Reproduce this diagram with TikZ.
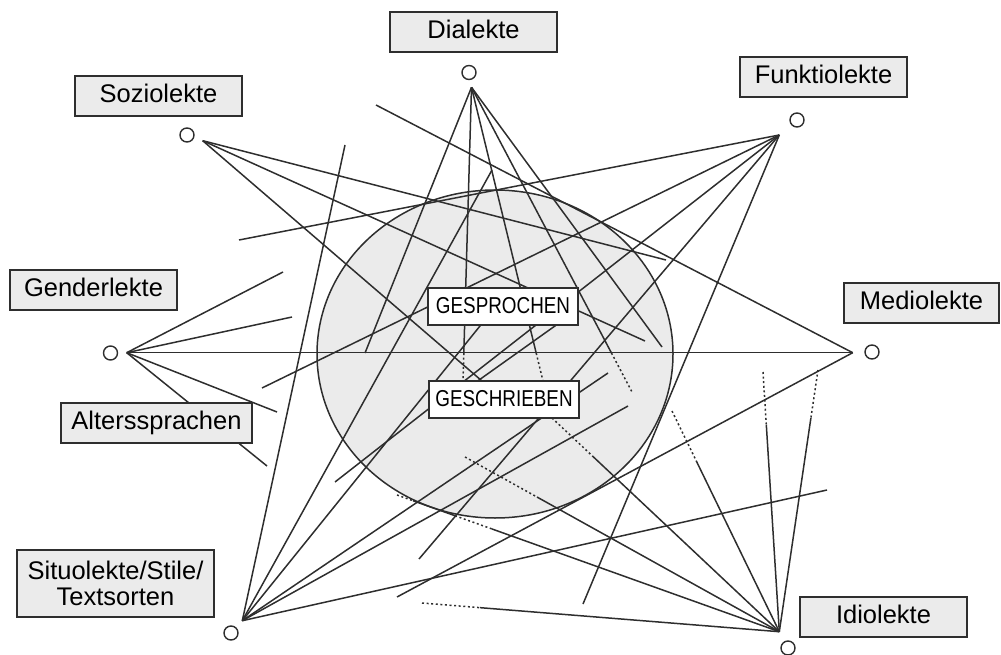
\documentclass[tikz,border=0pt]{standalone}
\usepackage{fontspec}
\setmainfont{Liberation Sans}
\newfontfamily\condfont[FakeStretch=0.82]{Liberation Sans}
\usetikzlibrary{calc,shapes.geometric}
\definecolor{ln}{HTML}{2E2E2E}
\definecolor{fl}{HTML}{EBEBEB}
\begin{document}
\begin{tikzpicture}[x=1pt,y=-1pt,
  lnk/.style={draw=ln, line width=1.5pt},
  dotl/.style={draw=ln, line width=1.5pt, dash pattern=on 2pt off 2.6pt},
  lblbase/.style={draw=ln, fill=fl, line width=1.5pt, minimum width=167pt, minimum height=40pt, inner sep=0pt,
    font=\fontsize{25.5}{26}\selectfont},
  lbl/.style={lblbase, text height=19pt, text depth=6pt},
  inbox/.style={draw=ln, fill=white, line width=1.5pt, minimum width=150pt, minimum height=37pt, inner sep=0pt,
    font=\condfont\fontsize{23}{24}\selectfont, text height=17pt, text depth=4pt},
  hubc/.style={circle, draw=ln, fill=white, line width=1.4pt, minimum size=14pt, inner sep=0pt}]
\useasboundingbox (0,0) rectangle (1001,655);
% ellipse
\node[ellipse, draw=ln, fill=fl, line width=1.5pt, minimum width=356pt, minimum height=328pt, inner sep=0pt] (ell) at (495,354) {};
% hubs
\coordinate (D) at (471.5,87.3);
\coordinate (Z) at (202.7,140.7);
\coordinate (F) at (779.3,135);
\coordinate (G) at (126.7,352.7);
\coordinate (M) at (852.7,352.7);
\coordinate (S) at (242.3,620.7);
\coordinate (I) at (779.3,631.7);
% free ends
\coordinate (zf) at (666,260);
\coordinate (zg) at (645,341);
\coordinate (zh) at (482,381);
\coordinate (f1) at (239,240);
\coordinate (f2) at (262,388);
\coordinate (f3) at (335,482);
\coordinate (f4) at (419,559);
\coordinate (f5) at (583,604);
\coordinate (m1) at (376,105);
\coordinate (m2) at (397,597);
\coordinate (g1) at (283,272);
\coordinate (g2) at (292,317);
\coordinate (g3) at (277,412);
\coordinate (g4) at (267,466);
\coordinate (s1) at (345,145);
\coordinate (s2) at (484,321);
\coordinate (s3) at (608,373);
\coordinate (s4) at (628,406);
\coordinate (s5) at (827,490);
\coordinate (s6) at (492,170);
\coordinate (d1) at (463,381);
\coordinate (d2) at (543,381);
\coordinate (d3) at (632,392);
\coordinate (d4) at (662,347);
\coordinate (d5) at (365,353);
\coordinate (y1) at (472,385);
\coordinate (y2) at (576,311);
\coordinate (i1) at (763,372);
\coordinate (i2) at (818,370);
\coordinate (i3) at (672,411);
\coordinate (i4) at (552,418);
\coordinate (i5) at (465,457);
\coordinate (i6) at (397,495);
\coordinate (i7) at (422,603);
% Soziolekte
\draw[lnk] (Z) -- (zf); \draw[lnk] (Z) -- (zg); \draw[lnk] (Z) -- (zh);
% Funktiolekte
\draw[lnk] (F) -- (f1); \draw[lnk] (F) -- (f2); \draw[lnk] (F) -- (f3); \draw[lnk] (F) -- (f4); \draw[lnk] (F) -- (f5);
% Mediolekte
\draw[lnk] (M) -- (G); \draw[lnk] (M) -- (m1); \draw[lnk] (M) -- (m2);
% Genderlekte
\draw[lnk] (G) -- (g1); \draw[lnk] (G) -- (g2); \draw[lnk] (G) -- (g3); \draw[lnk] (G) -- (g4);
% Situolekte
\draw[lnk] (S) -- (s1); \draw[lnk] (S) -- (s2); \draw[lnk] (S) -- (s3); \draw[lnk] (S) -- (s4); \draw[lnk] (S) -- (s5);
\draw[lnk] (S) -- (s6);
% Dialekte
\draw[lnk] (D) -- ($(D)!0.905!(d1)$); \draw[dotl] ($(D)!0.905!(d1)$) -- (d1);
\draw[lnk] (D) -- ($(D)!0.905!(d2)$); \draw[dotl] ($(D)!0.905!(d2)$) -- (d2);
\draw[lnk] (D) -- ($(D)!0.872!(d3)$); \draw[dotl] ($(D)!0.872!(d3)$) -- (d3);
\draw[lnk] (D) -- (d4);
\draw[lnk] (D) -- (d5);
% segment between the two inner boxes
\draw[lnk] (y1) -- (y2);
% Idiolekte
\draw[dotl] (i1) -- ($(i1)!0.204!(I)$); \draw[lnk] ($(i1)!0.204!(I)$) -- (I);
\draw[dotl] (i2) -- ($(i2)!0.183!(I)$); \draw[lnk] ($(i2)!0.183!(I)$) -- (I);
\draw[dotl] (i3) -- ($(i3)!0.231!(I)$); \draw[lnk] ($(i3)!0.231!(I)$) -- (I);
\draw[dotl] (i4) -- ($(i4)!0.182!(I)$); \draw[lnk] ($(i4)!0.182!(I)$) -- (I);
\draw[dotl] (i5) -- ($(i5)!0.229!(I)$); \draw[lnk] ($(i5)!0.229!(I)$) -- (I);
\draw[dotl] (i6) -- ($(i6)!0.042!(I)$); \draw[lnk] ($(i6)!0.042!(I)$) -- ($(i6)!0.152!(I)$);
\draw[dotl] ($(i6)!0.152!(I)$) -- ($(i6)!0.248!(I)$); \draw[lnk] ($(i6)!0.248!(I)$) -- (I);
\draw[dotl] (i7) -- ($(i7)!0.162!(I)$); \draw[lnk] ($(i7)!0.162!(I)$) -- (I);
% inner boxes
\node[inbox] (gsp) at (503,306.5) {GESPROCHEN};
\node[inbox] (gsc) at (504,399.5) {GESCHRIEBEN};
% labels
\node[lbl] (tD) at (473.5,32) {Dialekte};
\node[lbl] (tZ) at (158.5,96) {Soziolekte};
\node[lbl] (tF) at (823.5,77) {Funktiolekte};
\node[lbl] (tG) at (93.5,290) {Genderlekte};
\node[lbl, minimum width=155pt] (tM) at (921.5,303) {Mediolekte};
\node[lbl, minimum width=191pt] (tA) at (156.5,423) {Alterssprachen};
\node[lblbase, minimum width=197pt, minimum height=67pt, align=center] (tS) at (115.5,583.5) {Situolekte/Stile/\\Textsorten};
\node[lbl] (tI) at (883.5,617) {Idiolekte};
% circles
\node[hubc] (cD) at (469,72.5) {};
\node[hubc] (cZ) at (187,135) {};
\node[hubc] (cF) at (797,120) {};
\node[hubc] (cG) at (110.5,353) {};
\node[hubc] (cM) at (872,352) {};
\node[hubc] (cS) at (231,633) {};
\node[hubc] (cI) at (788,648) {};
\end{tikzpicture}
\end{document}
